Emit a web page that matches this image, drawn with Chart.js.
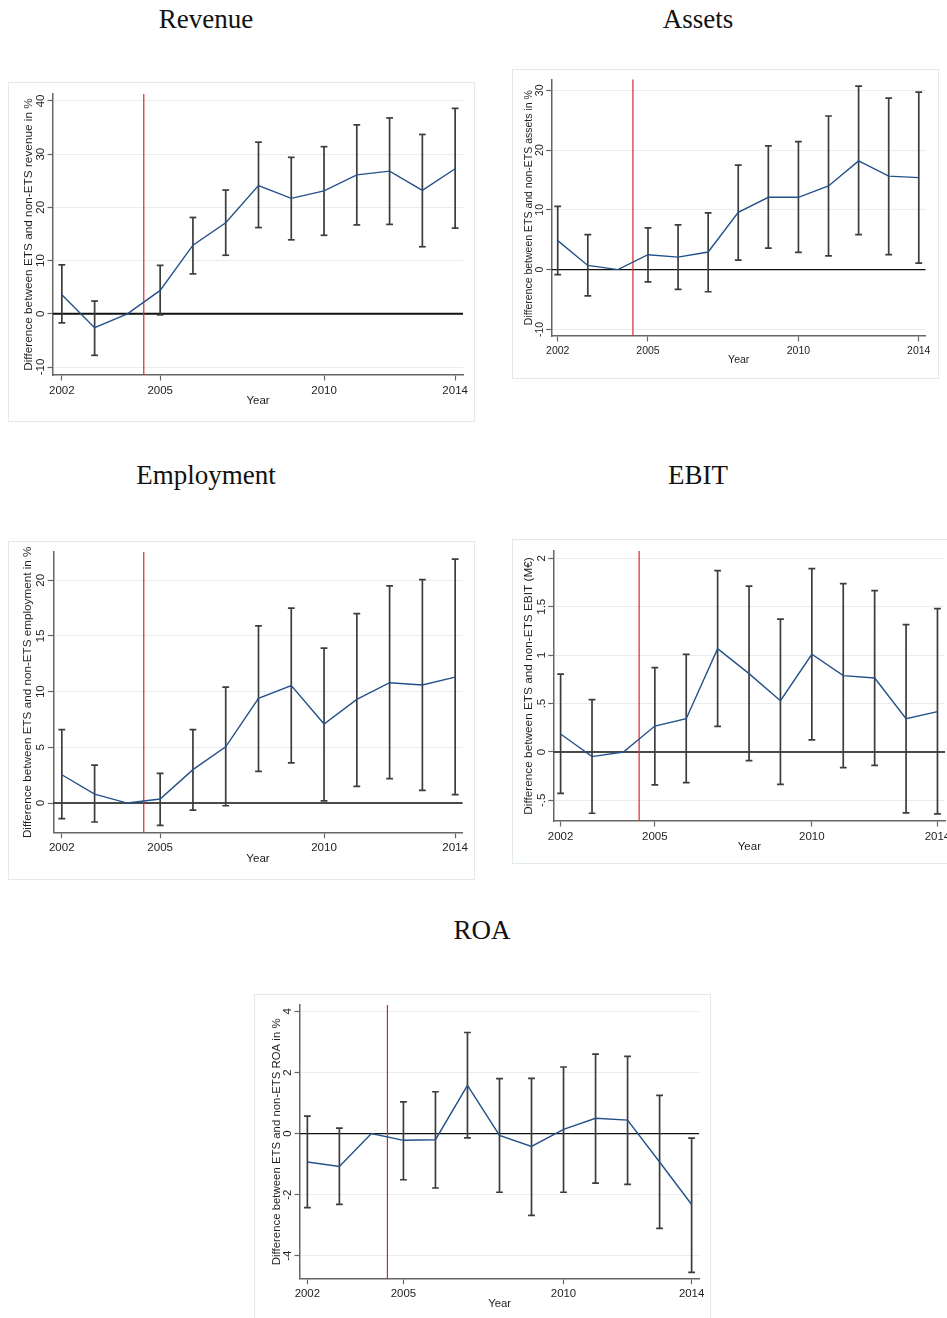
<!DOCTYPE html>
<html>
<head>
<meta charset="utf-8">
<script src="https://cdn.jsdelivr.net/npm/chart.js@4.4.1/dist/chart.umd.min.js"></script>
<style>
html, body { margin: 0; padding: 0; overflow: hidden; background: #fff; }
body { position: relative; width: 947px; height: 1318px; }
.title {
    position: absolute;
    width: 300px;
    text-align: center;
    font-family: "Liberation Serif", "Times New Roman", serif;
    font-size: 27px;
    line-height: 27px;
    color: #111;
}
.panel { position: absolute; border: 1px solid #e3eaee; background: #fff; }
.panel canvas { display: block; }
</style>
</head>
<body>

<div class="title" style="left:56px; top:6px;">Revenue</div>
<div class="title" style="left:548px; top:6px;">Assets</div>
<div class="title" style="left:56px; top:462px;">Employment</div>
<div class="title" style="left:548px; top:462px;">EBIT</div>
<div class="title" style="left:332px; top:917px;">ROA</div>

<div class="panel" style="left:8px; top:82px;"><canvas id="chart-rev" width="465" height="338"></canvas></div>
<div class="panel" style="left:512px; top:69px;"><canvas id="chart-ass" width="425" height="308"></canvas></div>
<div class="panel" style="left:8px; top:541px;"><canvas id="chart-emp" width="465" height="337"></canvas></div>
<div class="panel" style="left:512px; top:539px;"><canvas id="chart-ebit" width="444" height="323"></canvas></div>
<div class="panel" style="left:254px; top:994px;"><canvas id="chart-roa" width="455" height="330"></canvas></div>

<script>
// years and reference lines shared by every panel
const years = [2002, 2003, 2004, 2005, 2006, 2007, 2008, 2009, 2010, 2011, 2012, 2013, 2014];
const xTicks = [2002, 2005, 2010, 2014];
const treatYear = 2004.5;

// REVENUE (%)
const revenue   = [3.6, -2.6, 0, 4.4, 12.9, 17.1, 24.1, 21.7, 23.1, 26.1, 26.8, 23.2, 27.25];
const revenueLo = [-1.7, -7.8, null, -0.2, 7.5, 11.0, 16.2, 13.9, 14.75, 16.7, 16.8, 12.6, 16.1];
const revenueHi = [9.2, 2.4, null, 9.1, 18.1, 23.25, 32.25, 29.4, 31.4, 35.5, 36.8, 33.7, 38.6];
const revenueTicks = [-10, 0, 10, 20, 30, 40];
const revenueTickLabels = ['-10', '0', '10', '20', '30', '40'];

// ASSETS (%)
const assets   = [4.85, 0.7, 0, 2.5, 2.1, 2.95, 9.6, 12.1, 12.1, 14.0, 18.2, 15.65, 15.4];
const assetsLo = [-0.85, -4.4, null, -2.05, -3.3, -3.7, 1.6, 3.6, 2.9, 2.3, 5.85, 2.5, 1.1];
const assetsHi = [10.6, 5.85, null, 7.0, 7.5, 9.5, 17.5, 20.7, 21.4, 25.7, 30.7, 28.7, 29.7];
const assetsTicks = [-10, 0, 10, 20, 30];
const assetsTickLabels = ['-10', '0', '10', '20', '30'];

// EMPLOYMENT (%)
const employment   = [2.54, 0.8, 0, 0.36, 3.0, 5.05, 9.4, 10.55, 7.1, 9.3, 10.8, 10.6, 11.3];
const employmentLo = [-1.4, -1.7, null, -2.0, -0.63, -0.24, 2.84, 3.6, 0.2, 1.5, 2.2, 1.14, 0.75];
const employmentHi = [6.6, 3.4, null, 2.66, 6.6, 10.4, 15.9, 17.5, 13.9, 17.0, 19.5, 20.05, 21.9];
const employmentTicks = [0, 5, 10, 15, 20];
const employmentTickLabels = ['0', '5', '10', '15', '20'];

// EBIT (M€)
const ebit   = [0.186, -0.048, 0, 0.268, 0.344, 1.067, 0.809, 0.53, 1.009, 0.788, 0.764, 0.344, 0.417];
const ebitLo = [-0.427, -0.633, null, -0.34, -0.317, 0.265, -0.09, -0.334, 0.124, -0.162, -0.138, -0.63, -0.64];
const ebitHi = [0.805, 0.54, null, 0.871, 1.009, 1.873, 1.714, 1.373, 1.893, 1.738, 1.666, 1.315, 1.48];
const ebitTicks = [-0.5, 0, 0.5, 1, 1.5, 2];
const ebitTickLabels = ['-.5', '0', '.5', '1', '1.5', '2'];

// ROA (%)
const roa   = [-0.93, -1.075, 0, -0.22, -0.2, 1.58, -0.06, -0.42, 0.14, 0.5, 0.44, -0.93, -2.32];
const roaLo = [-2.42, -2.32, null, -1.51, -1.78, -0.14, -1.92, -2.68, -1.92, -1.62, -1.66, -3.1, -4.54];
const roaHi = [0.57, 0.18, null, 1.04, 1.37, 3.31, 1.8, 1.81, 2.18, 2.6, 2.53, 1.25, -0.15];
const roaTicks = [-4, -2, 0, 2, 4];
const roaTickLabels = ['-4', '-2', '0', '2', '4'];

const FONT = '"Liberation Sans", Arial, sans-serif';
const AXIS_COLOR = '#666';
const TEXT_COLOR = '#1e1e1e';

// Stata-style y labels: rotated, reading bottom to top, baseline facing the axis
const rotatedYTicks = {
    id: 'rotatedYTicks',
    afterDraw(chart) {
        const s = chart.scales.y;
        const ctx = chart.ctx;
        const size = chart.options.scales.y.ticks.font.size;
        ctx.save();
        ctx.fillStyle = TEXT_COLOR;
        ctx.font = size + 'px ' + FONT;
        ctx.textAlign = 'center';
        ctx.textBaseline = 'alphabetic';
        s.ticks.forEach(t => {
            ctx.save();
            ctx.translate(s.right - 9, s.getPixelForValue(t.value));
            ctx.rotate(-Math.PI / 2);
            ctx.fillText(t.label, 0, 0);
            ctx.restore();
        });
        ctx.restore();
    }
};

// error bar segments: low, high, gap
function ciPoints(lo, hi) {
    const pts = [];
    years.forEach((yr, i) => {
        if (lo[i] === null) return;
        pts.push({ x: yr, y: lo[i] }, { x: yr, y: hi[i] }, { x: yr, y: null });
    });
    return pts;
}

function makeChart(id, p) {
    const ctx = document.getElementById(id);
    return new Chart(ctx, {
        type: 'line',
        data: {
            datasets: [{
                data: years.map((yr, i) => ({ x: yr, y: p.values[i] })),
                borderColor: '#24518a',
                borderWidth: 1.4,
                pointRadius: 0,
                tension: 0
            }, {
                data: ciPoints(p.lo, p.hi),
                borderColor: '#3c3c3c',
                borderWidth: 1.7,
                pointStyle: 'line',
                pointRadius: 3.4,
                pointBorderWidth: 1.7,
                pointBorderColor: '#3c3c3c',
                spanGaps: false
            }, {
                data: [{ x: treatYear, y: p.yMin }, { x: treatYear, y: p.yMax }],
                borderColor: '#d8282c',
                borderWidth: 1.2,
                pointRadius: 0
            }, {
                data: [{ x: p.xMin, y: 0 }, { x: p.xMax, y: 0 }],
                borderColor: '#111',
                borderWidth: p.zeroWidth,
                pointRadius: 0
            }]
        },
        options: {
            responsive: false,
            animation: false,
            events: [],
            layout: {
                padding: { left: 0, top: p.padTop, right: p.padRight, bottom: p.padBottom }
            },
            scales: {
                x: {
                    type: 'linear',
                    min: p.xMin,
                    max: p.xMax,
                    afterBuildTicks: s => { s.ticks = xTicks.map(v => ({ value: v })); },
                    afterFit: s => { s.height = p.xHeight; },
                    ticks: {
                        padding: 3,
                        color: TEXT_COLOR,
                        font: { family: FONT, size: p.font },
                        callback: v => String(v)
                    },
                    grid: {
                        drawOnChartArea: false,
                        tickLength: 5.5,
                        tickColor: AXIS_COLOR,
                        tickWidth: 1.2
                    },
                    border: { color: AXIS_COLOR, width: 1.5 },
                    title: {
                        display: true,
                        text: 'Year',
                        color: TEXT_COLOR,
                        font: { family: FONT, size: p.font },
                        padding: 0
                    }
                },
                y: {
                    min: p.yMin,
                    max: p.yMax,
                    afterBuildTicks: s => { s.ticks = p.ticks.map(v => ({ value: v })); },
                    afterFit: s => { s.width = p.yWidth; },
                    ticks: {
                        color: 'rgba(0,0,0,0)',
                        font: { family: FONT, size: p.font },
                        callback: (v, i) => p.tickLabels[p.ticks.indexOf(v)]
                    },
                    grid: {
                        color: '#e6eef1',
                        lineWidth: 1,
                        tickLength: 5.5,
                        tickColor: AXIS_COLOR,
                        tickWidth: 1.2
                    },
                    border: { color: AXIS_COLOR, width: 1.5 },
                    title: {
                        display: true,
                        text: p.yTitle,
                        color: TEXT_COLOR,
                        font: { family: FONT, size: p.titleFont },
                        padding: { top: p.yTitlePad, bottom: 0 }
                    }
                }
            },
            plugins: {
                legend: { display: false },
                tooltip: { enabled: false }
            }
        },
        plugins: [rotatedYTicks]
    });
}

// REVENUE
let revChart = makeChart('chart-rev', {
    values: revenue, lo: revenueLo, hi: revenueHi,
    ticks: revenueTicks, tickLabels: revenueTickLabels,
    yTitle: 'Difference between ETS and non-ETS revenue in %',
    xMin: 2001.73, xMax: 2014.24, yMin: -11.5, yMax: 41.3,
    padTop: 11, padRight: 11, padBottom: 13, xHeight: 33, yWidth: 44,
    yTitlePad: 13, font: 11.5, titleFont: 11.8, zeroWidth: 2
});

// ASSETS
let assChart = makeChart('chart-ass', {
    values: assets, lo: assetsLo, hi: assetsHi,
    ticks: assetsTicks, tickLabels: assetsTickLabels,
    yTitle: 'Difference between ETS and non-ETS assets in %',
    xMin: 2001.8, xMax: 2014.23, yMin: -11.1, yMax: 31.84,
    padTop: 9, padRight: 12.3, padBottom: 11.7, xHeight: 30.3, yWidth: 38.7,
    yTitlePad: 10, font: 10.5, titleFont: 10.5, zeroWidth: 1.4
});

// EMPLOYMENT
let empChart = makeChart('chart-emp', {
    values: employment, lo: employmentLo, hi: employmentHi,
    ticks: employmentTicks, tickLabels: employmentTickLabels,
    yTitle: 'Difference between ETS and non-ETS employment in %',
    xMin: 2001.74, xMax: 2014.23, yMin: -2.66, yMax: 22.54,
    padTop: 9.7, padRight: 11.3, padBottom: 13.7, xHeight: 32.6, yWidth: 44.3,
    yTitlePad: 12, font: 11.6, titleFont: 11.7, zeroWidth: 1.4
});

// EBIT
let ebitChart = makeChart('chart-ebit', {
    values: ebit, lo: ebitLo, hi: ebitHi,
    ticks: ebitTicks, tickLabels: ebitTickLabels,
    yTitle: 'Difference between ETS and non-ETS EBIT (M€)',
    xMin: 2001.78, xMax: 2014.24, yMin: -0.713, yMax: 2.076,
    padTop: 11, padRight: 12, padBottom: 9.4, xHeight: 32.6, yWidth: 40.7,
    yTitlePad: 9, font: 11.5, titleFont: 11.8, zeroWidth: 1.4
});

// ROA
let roaChart = makeChart('chart-roa', {
    values: roa, lo: roaLo, hi: roaHi,
    ticks: roaTicks, tickLabels: roaTickLabels,
    yTitle: 'Difference between ETS and non-ETS ROA in %',
    xMin: 2001.77, xMax: 2014.24, yMin: -4.75, yMax: 4.21,
    padTop: 10, padRight: 10.7, padBottom: 14.1, xHeight: 32.2, yWidth: 45,
    yTitlePad: 15, font: 11.4, titleFont: 11.4, zeroWidth: 1.4
});
</script>
</body>
</html>
